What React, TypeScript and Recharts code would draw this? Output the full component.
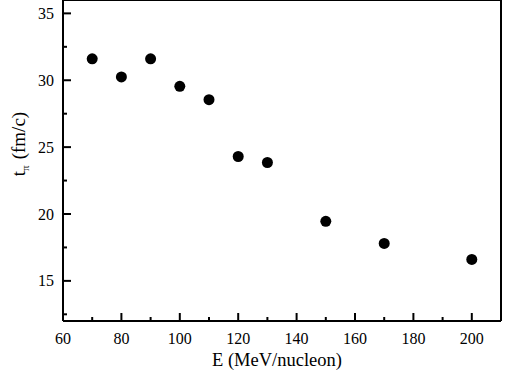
import { ScatterChart, Scatter, XAxis, YAxis } from 'recharts';

const energies = [70, 80, 90, 100, 110, 120, 130, 150, 170, 200];
const tPi = [31.6, 30.25, 31.6, 29.55, 28.55, 24.3, 23.85, 19.45, 17.8, 16.6];

const xTicks = [60, 70, 80, 90, 100, 110, 120, 130, 140, 150, 160, 170, 180, 190, 200];
const xMajor = [60, 80, 100, 120, 140, 160, 180, 200];
const yTicks = [12.5, 15, 17.5, 20, 22.5, 25, 27.5, 30, 32.5, 35];
const yMajor = [15, 20, 25, 30, 35];

const points = energies.map((e, i) => ({ e, t: tPi[i] }));

const FONT = "'Liberation Serif', 'DejaVu Serif', serif";
const txt = { fontFamily: FONT, fontSize: 16, fill: '#000' };
const title = { fontFamily: FONT, fontSize: 18.5, fill: '#000' };
const MAJOR = 8;
const MINOR = 4;

function bottomTick({ x, y, payload }: any) {
  const major = xMajor.includes(payload.value);
  return (
    <g>
      <line x1={x} x2={x} y1={y} y2={y - (major ? MAJOR : MINOR)} stroke="#000" strokeWidth={2} />
      {major && (
        <text x={x} y={y + 23} textAnchor="middle" style={txt}>
          {payload.value}
        </text>
      )}
    </g>
  );
}

function topTick({ x, y, payload }: any) {
  const major = xMajor.includes(payload.value);
  return <line x1={x} x2={x} y1={y} y2={y + (major ? MAJOR : MINOR)} stroke="#000" strokeWidth={2} />;
}

function leftTick({ x, y, payload }: any) {
  const major = yMajor.includes(payload.value);
  return (
    <g>
      <line x1={x} x2={x + (major ? MAJOR : MINOR)} y1={y} y2={y} stroke="#000" strokeWidth={2} />
      {major && (
        <text x={x - 9} y={y + 5.5} textAnchor="end" style={txt}>
          {payload.value}
        </text>
      )}
    </g>
  );
}

function rightTick({ x, y, payload }: any) {
  const major = yMajor.includes(payload.value);
  return <line x1={x} x2={x - (major ? MAJOR : MINOR)} y1={y} y2={y} stroke="#000" strokeWidth={2} />;
}

const dot = (props: any) => <circle cx={props.cx} cy={props.cy} r={5.5} fill="#000" />;

const axisLine = { stroke: '#000', strokeWidth: 2 };

export default function App() {
  return (
    <div style={{ position: 'absolute', left: 0, top: 0, background: '#fff', fontFamily: FONT }}>
      <ScatterChart width={507} height={378} margin={{ top: -1, right: 5, left: 62, bottom: 56 }}>
        <XAxis
          xAxisId="b"
          dataKey="e"
          type="number"
          domain={[60, 210]}
          ticks={xTicks}
          interval={0}
          height={1}
          tickSize={0}
          tickMargin={0}
          tickLine={false}
          axisLine={axisLine}
          tick={bottomTick}
          label={{
            content: () => (
              <text x={277} y={366} textAnchor="middle" style={title}>
                E (MeV/nucleon)
              </text>
            ),
          }}
        />
        <XAxis
          xAxisId="t"
          orientation="top"
          type="number"
          domain={[60, 210]}
          ticks={xTicks}
          interval={0}
          height={1}
          tickSize={0}
          tickMargin={0}
          tickLine={false}
          axisLine={axisLine}
          tick={topTick}
        />
        <YAxis
          yAxisId="l"
          dataKey="t"
          type="number"
          domain={[12, 36]}
          ticks={yTicks}
          interval={0}
          width={1}
          tickSize={0}
          tickMargin={0}
          tickLine={false}
          axisLine={axisLine}
          tick={leftTick}
          label={{
            content: () => (
              <text x={25} y={144} transform="rotate(-90 25 144)" textAnchor="middle" style={{ ...title, fontSize: 19 }}>
                t
                <tspan style={{ fontSize: 11 }} dy={4}>π</tspan>
                <tspan dy={-4} dx={6}>(fm/c)</tspan>
              </text>
            ),
          }}
        />
        <YAxis
          yAxisId="r"
          orientation="right"
          type="number"
          domain={[12, 36]}
          ticks={yTicks}
          interval={0}
          width={1}
          tickSize={0}
          tickMargin={0}
          tickLine={false}
          axisLine={axisLine}
          tick={rightTick}
        />
        <Scatter data={points} xAxisId="b" yAxisId="l" fill="#000" shape={dot} isAnimationActive={false} />
      </ScatterChart>
    </div>
  );
}
